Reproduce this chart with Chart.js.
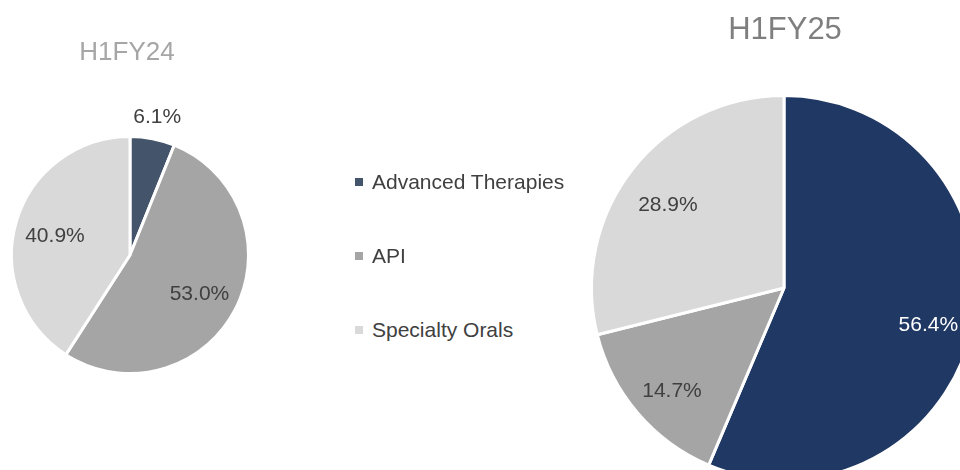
<!DOCTYPE html>
<html>
<head>
<meta charset="utf-8">
<script src="https://cdn.jsdelivr.net/npm/chart.js@4"></script>
<style>
  body { margin: 0; background: #fff; }
  #wrap { position: relative; width: 960px; height: 470px; overflow: hidden; background: #fff; }
  canvas { position: absolute; }
  #legend { position: absolute; left: 355px; top: 0; font-family: "Liberation Sans", Arial, sans-serif; font-size: 21px; color: #404040; }
  .item { position: absolute; white-space: nowrap; height: 24px; line-height: 24px; }
  .box { display: inline-block; width: 8px; height: 8px; margin-right: 9px; vertical-align: middle; position: relative; top: -1px; }
</style>
</head>
<body>
<div id="wrap">
  <canvas id="chart24" width="260" height="470" style="left:0;top:0;width:260px;height:470px"></canvas>
  <canvas id="chart25" width="460" height="520" style="left:560px;top:0;width:460px;height:520px"></canvas>
  <div id="legend"></div>
</div>
<script>
let segments = ["Advanced Therapies", "API", "Specialty Orals"];
let values24 = [6.1, 53.0, 40.9];
let values25 = [56.4, 14.7, 28.9];
let colors24 = ["#44546A", "#A5A5A5", "#D9D9D9"];
let colors25 = ["#203864", "#A5A5A5", "#D9D9D9"];
let labelColors25 = ["#FFFFFF", "#404040", "#404040"];
let titles = ["H1FY24", "H1FY25"];

const FONT = "'Liberation Sans', Arial, sans-serif";

// draws the title and the percent labels
const labelPlugin = {
  id: "pieLabels",
  afterDatasetsDraw(chart, args, opts) {
    let c = chart.ctx;
    let meta = chart.getDatasetMeta(0);
    let data = chart.data.datasets[0].data;
    c.save();
    c.textAlign = "center";
    c.textBaseline = "middle";
    c.font = opts.titleSize + "px " + FONT;
    c.fillStyle = opts.titleColor;
    c.fillText(opts.title, opts.titleX, opts.titleY);
    c.font = opts.labelSize + "px " + FONT;
    meta.data.forEach((arc, i) => {
      let mid = (arc.startAngle + arc.endAngle) / 2;
      let r = arc.outerRadius * opts.frac;
      let dy = opts.dy;
      if (data[i] < 10) {
        r = arc.outerRadius + 24;
        dy = 2;
      }
      let x = arc.x + Math.cos(mid) * r;
      let y = arc.y + Math.sin(mid) * r + dy;
      c.fillStyle = opts.labelColors[i];
      c.fillText(data[i].toFixed(1) + "%", x, y);
    });
    c.restore();
  },
};

function createPie(id, values, colors, padding, labelOpts) {
  let ctx = document.getElementById(id);
  return new Chart(ctx, {
    type: "pie",
    data: {
      labels: segments,
      datasets: [
        {
          data: values,
          backgroundColor: colors,
          borderColor: "#FFFFFF",
          borderWidth: 3,
        },
      ],
    },
    options: {
      responsive: false,
      animation: false,
      layout: { padding: padding },
      plugins: {
        legend: { display: false },
        tooltip: { enabled: false },
        pieLabels: labelOpts,
      },
    },
    plugins: [labelPlugin],
  });
}

createPie("chart24", values24, colors24,
  { left: 10, right: 10, top: 135, bottom: 95 },
  {
    title: titles[0], titleX: 127, titleY: 53, titleSize: 26, titleColor: "#A6A6A6",
    labelSize: 21, frac: 0.66, dy: 3, labelColors: ["#404040", "#404040", "#404040"],
  });

createPie("chart25", values25, colors25,
  { left: 30, right: 42, top: 94, bottom: 38 },
  {
    title: titles[1], titleX: 225, titleY: 30, titleSize: 31, titleColor: "#7F7F7F",
    labelSize: 21, frac: 0.765, dy: 8, labelColors: labelColors25,
  });

// legend
let legend = document.getElementById("legend");
let legendY = [170, 244, 318];
for (let i = 0; i < segments.length; i++) {
  let item = document.createElement("div");
  item.className = "item";
  item.style.top = legendY[i] + "px";
  item.innerHTML = '<span class="box" style="background:' + colors24[i] + '"></span>' + segments[i];
  legend.appendChild(item);
}
</script>
</body>
</html>
